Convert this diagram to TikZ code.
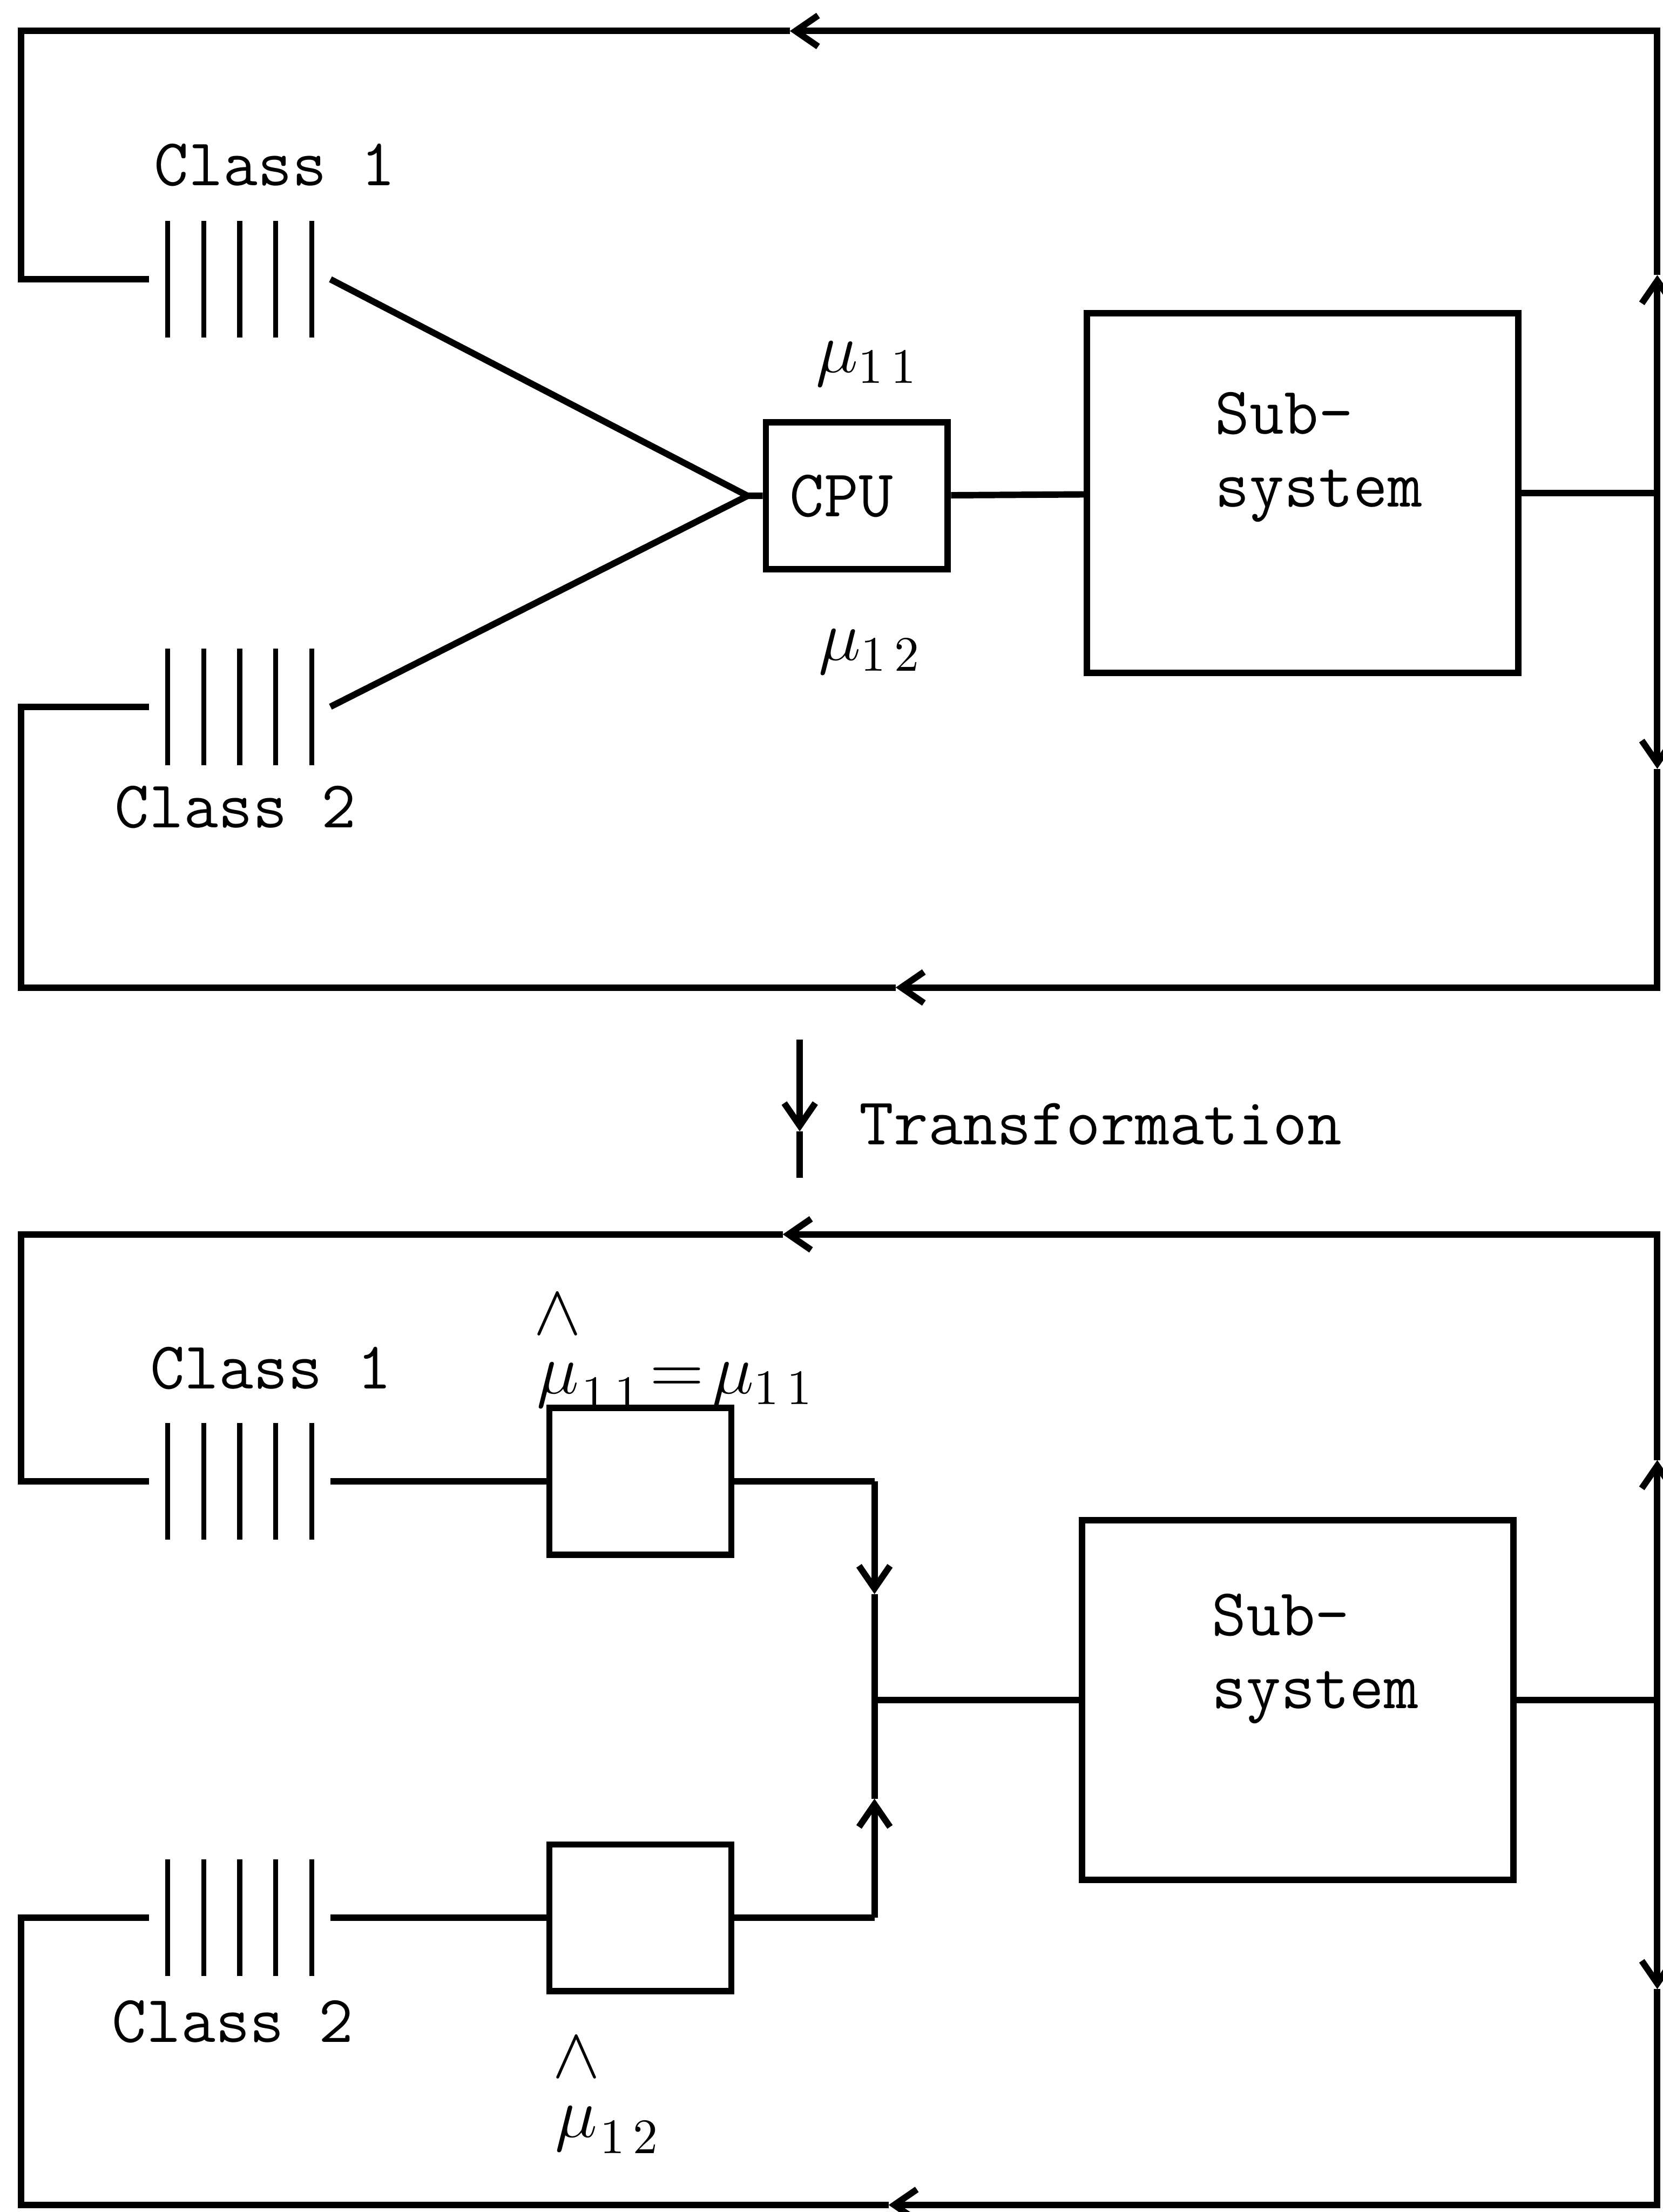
\documentclass[tikz,border=0pt]{standalone}
\usepackage{amsmath}
\usepackage{fontspec}
\usetikzlibrary{arrows.meta,positioning}

\newcommand{\muhat}{\overset{\raisebox{3pt}{$\textstyle\wedge$}}{\mu}}

\begin{document}
\begin{tikzpicture}[
  line width=1.3pt,
  box/.style={draw, minimum width=1.29cm, minimum height=1.04cm},
  subbox/.style={draw, minimum width=3.06cm, minimum height=2.55cm},
  queue/.style={minimum width=1.24cm, minimum height=0.78cm, inner sep=0pt},
  bar/.style={line width=1pt},
  txt/.style={font=\fontsize{13.5}{14.7}\selectfont\ttfamily, inner sep=0pt},
  sym/.style={font=\Large, inner sep=0pt},
  tip/.style={-{Straight Barb[length=1.6mm,width=2.2mm]}}
]
  \useasboundingbox (0,0) rectangle (11.79,15.68);

  % upper network
  \node[queue] (qa) at (1.70,13.70) {};
  \node[queue] (qb) at (1.70,10.67) {};
  \node[txt] (clsa) at (1.95,14.51) {Class 1};
  \node[txt] (clsb) at (1.67,9.96) {Class 2};
  \node[box, txt, text width=0.95cm, inner sep=0.17cm, align=left] (cpu) at (6.075,12.165) {CPU};
  \node[sym] (mua) at (6.15,13.10) {$\mu_{1\,1}$};
  \node[sym] (mub) at (6.17,11.06) {$\mu_{1\,2}$};
  \node[subbox] (suba) at (9.235,12.185) {};
  \node[txt, align=left] (subatxt) at (9.35,12.44) {Sub-\\system};

  \coordinate (mrg) at (5.30,12.165);
  \draw (qa.east) -- (mrg) -- (cpu);
  \draw (qb.east) -- (mrg);
  \draw (cpu) -- (suba);

  % upper feedback loop
  \coordinate (ra)   at (11.75,12.185);
  \coordinate (rtop) at (11.75,15.46);
  \coordinate (ltop) at (0.15,15.46);
  \coordinate (rbot) at (11.75,8.68);
  \coordinate (lbot) at (0.15,8.68);
  \coordinate (upa)  at (11.75,13.73);
  \coordinate (dna)  at (11.75,10.23);
  \coordinate (lfa)  at (5.60,15.46);
  \coordinate (lfb)  at (6.35,8.68);
  \draw (suba) -- (ra);
  \draw[tip] (ra) -- (upa);
  \draw[tip] (upa) -- (rtop) -- (lfa);
  \draw (lfa) -- (ltop) |- (qa);
  \draw[tip] (ra) -- (dna);
  \draw[tip] (dna) -- (rbot) -- (lfb);
  \draw (lfb) -- (lbot) |- (qb);

  % transformation
  \coordinate (ttop) at (5.67,8.31);
  \coordinate (tmid) at (5.67,7.66);
  \coordinate (tbot) at (5.67,7.33);
  \draw[tip] (ttop) -- (tmid);
  \draw (tmid) -- (tbot);
  \node[txt, anchor=west] (trf) at (6.07,7.71) {Transformation};

  % lower network
  \node[queue] (qc) at (1.70,5.18) {};
  \node[queue] (qd) at (1.70,2.085) {};
  \node[txt] (clsc) at (1.92,5.98) {Class 1};
  \node[txt] (clsd) at (1.65,1.35) {Class 2};
  \node[box] (srva) at (4.54,5.18) {};
  \node[box] (srvb) at (4.54,2.085) {};
  \node[sym] (mhata) at (4.78,6.12) {$\muhat_{1\,1}\!=\!\mu_{1\,1}$};
  \node[sym] (mhatb) at (4.30,0.85) {$\muhat_{1\,2}$};
  \node[subbox] (subb) at (9.20,3.63) {};
  \node[txt, align=left] (subbtxt) at (9.325,3.92) {Sub-\\system};

  \coordinate (ja) at (6.20,5.18);
  \coordinate (jm) at (6.20,3.63);
  \coordinate (jb) at (6.20,2.085);
  \coordinate (da) at (6.20,4.38);
  \coordinate (ub) at (6.20,2.93);
  \draw (qc) -- (srva);
  \draw (qd) -- (srvb);
  \draw (srva) -- (ja);
  \draw[tip] (ja) -- (da);
  \draw (da) -- (jm) -- (subb);
  \draw (srvb) -- (jb);
  \draw[tip] (jb) -- (ub);
  \draw (ub) -- (jm);

  % lower feedback loop
  \coordinate (rb)    at (11.75,3.63);
  \coordinate (rtopb) at (11.75,6.93);
  \coordinate (ltopb) at (0.15,6.93);
  \coordinate (rbotb) at (11.75,0.05);
  \coordinate (lbotb) at (0.15,0.05);
  \coordinate (upb)   at (11.75,5.33);
  \coordinate (dnb)   at (11.75,1.58);
  \coordinate (lfc)   at (5.55,6.93);
  \coordinate (lfd)   at (6.30,0.05);
  \draw (subb) -- (rb);
  \draw[tip] (rb) -- (upb);
  \draw[tip] (upb) -- (rtopb) -- (lfc);
  \draw (lfc) -- (ltopb) |- (qc);
  \draw[tip] (rb) -- (dnb);
  \draw[tip] (dnb) -- (rbotb) -- (lfd);
  \draw (lfd) -- (lbotb) |- (qd);

  % queue bars
  \foreach \q in {qa,qb,qc,qd} {
    \foreach \i in {-2,...,2} {
      \draw[bar] ([xshift=\i*2.55mm]\q.south) -- ([xshift=\i*2.55mm]\q.north);
    }
  }
\end{tikzpicture}
\end{document}
